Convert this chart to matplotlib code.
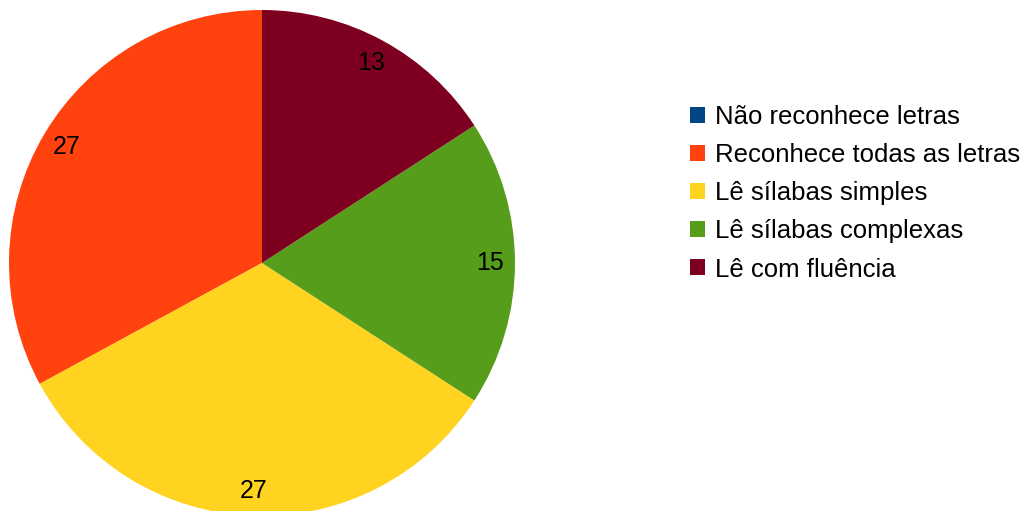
import matplotlib.pyplot as plt

plt.rcParams['font.family'] = ['Liberation Sans', 'DejaVu Sans']

categorias = ['Não reconhece letras', 'Reconhece todas as letras', 'Lê sílabas simples',
              'Lê sílabas complexas', 'Lê com fluência']
valores = [0, 27, 27, 15, 13]
cores = ['#004586', '#ff420e', '#ffd320', '#579d1c', '#7e0021']


def rotulo(pct):
    v = round(pct * sum(valores) / 100)
    return f'{v}' if v > 0 else ''


fig = plt.figure(figsize=(10.35, 5.11), dpi=100)
W, H = 1035, 511
cx, cy, r = 262, 263, 253
ax = fig.add_axes([(cx - r) / W, (H - cy - r) / H, 2 * r / W, 2 * r / H])

fatias, _, textos = ax.pie(valores, colors=cores, startangle=90, counterclock=True,
                           autopct=rotulo, pctdistance=0.9,
                           textprops={'fontsize': 18, 'color': 'black'})
ax.set_xlim(-1, 1)
ax.set_ylim(-1, 1)
ax.set_aspect('equal')

fig.legend(fatias, categorias, loc='upper left', bbox_to_anchor=(690 / W, 1 - 105 / H),
           frameon=False, fontsize=18.5, handlelength=0.58, handleheight=0.58,
           handletextpad=0.4, labelspacing=0.55, borderpad=0, borderaxespad=0)

fig.savefig('out.png', dpi=100)
